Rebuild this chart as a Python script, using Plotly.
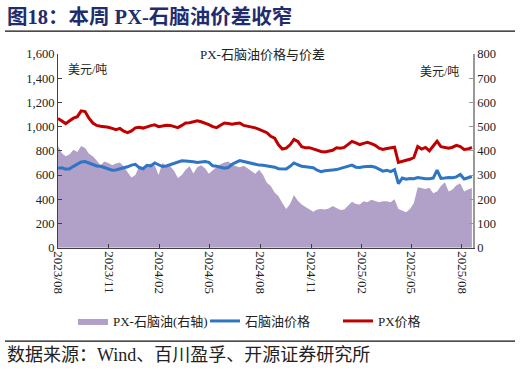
import plotly.graph_objects as go
import pandas as pd

# ---------------- data (weekly) ----------------
dates = pd.date_range("2023-08-01", periods=108, freq="7D")

px_price = [
    1068, 1050, 1025, 1048, 1070, 1082, 1130, 1125, 1070, 1030,
    1010, 1003, 1000, 995, 985, 975, 985, 962, 950, 965,
    990, 995, 988, 1000, 1008, 1015, 1000, 1005, 1012, 1010,
    1000, 992, 1010, 1030, 1032, 1040, 1048, 1040, 1030, 1017,
    1000, 992, 1012, 1030, 1025, 1020, 1025, 1030, 1010, 1003,
    1000, 990, 978, 965, 950, 920, 905, 850, 815, 822,
    850, 895, 878, 835, 825, 826, 815, 805, 795, 790,
    798, 805, 826, 822, 828, 855, 878, 865, 852, 862,
    870, 860, 845, 822, 812, 820, 828, 830, 705, 716,
    722, 730, 745, 835, 815, 828, 800, 840, 880, 835,
    826, 822, 830, 845, 835, 812, 815, 828,
]

naphtha_price = [
    655, 660, 648, 652, 672, 690, 708, 712, 700, 685,
    675, 672, 660, 648, 640, 642, 648, 660, 668, 682,
    688, 662, 652, 680, 675, 700, 685, 670, 675, 685,
    692, 702, 718, 716, 714, 710, 703, 708, 712, 705,
    676, 672, 665, 656, 662, 689, 705, 720, 712, 703,
    698, 690, 682, 680, 676, 670, 665, 652, 648, 650,
    672, 700, 685, 672, 668, 662, 660, 640, 628, 636,
    642, 642, 645, 655, 665, 672, 682, 665, 662, 668,
    672, 672, 665, 648, 632, 640, 628, 645, 530, 575,
    565, 572, 570, 580, 572, 570, 570, 575, 640, 572,
    575, 580, 578, 585, 605, 568, 578, 588,
]

spread = [
    420, 390, 378, 386, 405, 395, 420, 412, 388, 378,
    360, 340, 356, 350, 340, 348, 352, 335, 312, 290,
    300, 336, 332, 342, 348, 340, 300, 350, 338, 336,
    318, 288, 300, 322, 336, 306, 332, 340, 328, 305,
    320, 334, 345, 352, 356, 345, 336, 332, 338, 328,
    316, 305, 322, 300, 268, 255, 228, 212, 185, 160,
    180, 218, 194, 178, 168, 158, 148, 158, 160, 158,
    162, 172, 165, 156, 158, 174, 190, 180, 178, 192,
    188, 198, 194, 188, 192, 192, 188, 200, 160, 152,
    146, 160, 185, 250, 245, 242, 248, 225, 232, 255,
    270, 232, 240, 258, 265, 232, 240, 246,
]

series_names = ["PX-石脑油(右轴)", "石脑油价格", "PX价格"]
title_text = "图18：本周 PX-石脑油价差收窄"
chart_title = "PX-石脑油价格与价差"
unit_text = "美元/吨"
source_text = "数据来源：Wind、百川盈孚、开源证券研究所"

# ---------------- layout helpers ----------------
W, H = 521, 374
L, R, T, B = 58, 473, 54, 249


def xp(px):
    return (px - L) / (R - L)


def yp(py):
    return (B - py) / (B - T)


SERIF = "Liberation Serif, Noto Sans CJK SC, serif"
CJK = "Liberation Serif, Noto Sans CJK SC"
PURPLE = "#B1A0C7"
BLUE = "#2E75C6"
RED = "#C00000"

fig = go.Figure()
fig.add_trace(go.Scatter(
    x=dates, y=spread, name=series_names[0], yaxis="y",
    mode="lines", fill="tozeroy", fillcolor=PURPLE,
    line=dict(width=0, color=PURPLE), legend="legend",
))
fig.add_trace(go.Scatter(
    x=dates, y=naphtha_price, name=series_names[1], yaxis="y2",
    mode="lines", line=dict(width=3, color=BLUE), legend="legend2",
))
fig.add_trace(go.Scatter(
    x=dates, y=px_price, name=series_names[2], yaxis="y2",
    mode="lines", line=dict(width=3, color=RED), legend="legend3",
))

tickfont = dict(family=SERIF, size=12.5, color="#222222")

legend_common = dict(
    xref="container", yref="container", xanchor="left", yanchor="middle",
    orientation="h", bgcolor="rgba(0,0,0,0)", borderwidth=0,
    font=dict(family=CJK, size=13, color="#222222"), itemwidth=30,
)

fig.update_layout(
    width=W, height=H,
    margin=dict(l=L, r=W - R, t=T, b=H - B, pad=0),
    paper_bgcolor="white", plot_bgcolor="white",
    showlegend=True,
    xaxis=dict(
        type="date", range=["2023-08-01", "2025-08-21"],
        tick0="2023-08-01", dtick="M3", tickformat="%Y/%m",
        tickangle=90, ticks="inside", ticklen=4, tickcolor="#404040",
        showline=True, linecolor="#404040", linewidth=1.2,
        showgrid=False, zeroline=False, tickfont=dict(family=SERIF, size=13, color="#222222"),
    ),
    yaxis=dict(
        side="right", range=[0, 800], dtick=100,
        ticks="inside", ticklen=4, tickcolor="#999999",
        showline=True, linecolor="#999999", linewidth=1.5,
        showgrid=False, zeroline=False, tickfont=tickfont,
    ),
    yaxis2=dict(
        overlaying="y", side="left", range=[0, 1600], dtick=200,
        tickformat=",", ticks="inside", ticklen=4, tickcolor="#404040",
        showline=True, linecolor="#404040", linewidth=1.2,
        showgrid=False, zeroline=False, tickfont=tickfont,
    ),
    legend=dict(x=73 / W, y=1 - 321 / H, **legend_common),
    legend2=dict(x=205 / W, y=1 - 321 / H, **legend_common),
    legend3=dict(x=338 / W, y=1 - 321 / H, **legend_common),
)

annotations = [
    dict(text="<b>" + title_text + "</b>", x=xp(5), y=yp(16), xanchor="left", yanchor="middle",
         font=dict(family=CJK, size=20.5, color="#1F2D6E")),
    dict(text=chart_title, x=xp(262), y=yp(55), xanchor="center", yanchor="middle",
         font=dict(family=CJK, size=13, color="#222222")),
    dict(text=unit_text, x=xp(87), y=yp(70), xanchor="center", yanchor="middle",
         font=dict(family=CJK, size=12, color="#222222")),
    dict(text=unit_text, x=xp(439), y=yp(72), xanchor="center", yanchor="middle",
         font=dict(family=CJK, size=12, color="#222222")),
    dict(text=source_text, x=xp(5), y=yp(357), xanchor="left", yanchor="middle",
         font=dict(family=CJK, size=18, color="#222222")),
]
for a in annotations:
    a.update(xref="paper", yref="paper", showarrow=False)
fig.update_layout(annotations=annotations)

fig.update_layout(shapes=[
    dict(type="line", xref="paper", yref="paper", x0=xp(5), x1=xp(515), y0=yp(31), y1=yp(31),
         line=dict(color="#111111", width=1.2)),
    dict(type="line", xref="paper", yref="paper", x0=xp(5), x1=xp(515), y0=yp(343), y1=yp(343),
         line=dict(color="#111111", width=1.2)),
])

fig.write_html("out.html", config={"displayModeBar": False},
               post_script="document.body.style.margin='0';")
